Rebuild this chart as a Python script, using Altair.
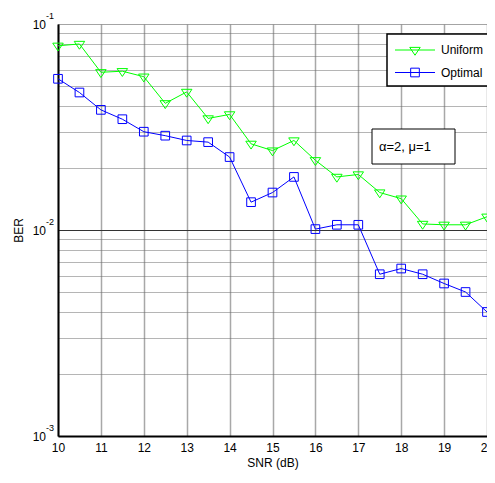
import altair as alt
import pandas as pd

# ---- data ----
snr = [10, 10.5, 11, 11.5, 12, 12.5, 13, 13.5, 14, 14.5, 15,
       15.5, 16, 16.5, 17, 17.5, 18, 18.5, 19, 19.5, 20]
uniform = [0.0784, 0.080, 0.0583, 0.059, 0.0555, 0.0412, 0.0468, 0.0348, 0.0364, 0.0262, 0.0243,
           0.0272, 0.0218, 0.0181, 0.0186, 0.0152, 0.0142, 0.0107, 0.0106, 0.0106, 0.0116]
optimal = [0.0542, 0.0465, 0.0383, 0.0345, 0.0300, 0.0287, 0.0272, 0.0267, 0.0226, 0.01365, 0.0152,
           0.0181, 0.0101, 0.0106, 0.0106, 0.0061, 0.0065, 0.0061, 0.0055, 0.0050, 0.0040]
series_names = ["Uniform", "Optimal"]
series_colors = ["#00ff00", "#0000ff"]
x_ticks = list(range(10, 21))
y_grid = [0.001, 0.002, 0.003, 0.004, 0.005, 0.006, 0.007, 0.008, 0.009,
          0.01, 0.02, 0.03, 0.04, 0.05, 0.06, 0.07, 0.08, 0.09, 0.1]
decades = [0.001, 0.01, 0.1]
decade_base = ["10", "10", "10"]
decade_exp = ["-3", "-2", "-1"]
annotation = ["\u03b1=2, \u03bc=1"]

FONT = "Liberation Sans"
W, H = 429, 412

# centroid-centred down triangle
tri_path = "M-1,-0.5L1,-0.5L0,1Z"

df_u = pd.DataFrame({"snr": snr, "ber": uniform})
df_o = pd.DataFrame({"snr": snr, "ber": optimal})
df_dec = pd.DataFrame({"ber": decades, "base": decade_base, "exp": decade_exp})
df_ann = pd.DataFrame({"label": annotation})
df_leg_u = pd.DataFrame({"label": [series_names[0]]})
df_leg_o = pd.DataFrame({"label": [series_names[1]]})

xscale = alt.Scale(domain=[10, 20], nice=False, zero=False)
yscale = alt.Scale(type="log", domain=[0.001, 0.1], nice=False)

xaxis = alt.Axis(values=x_ticks, grid=True, gridColor="#a8a8a8", gridWidth=1.5,
                 ticks=False, labelPadding=6, labelFontSize=12, labelFont=FONT,
                 labelColor="black", labelFlush=False, labelOverlap=False,
                 domainColor="black", domainWidth=2,
                 title="SNR (dB)", titleFont=FONT, titleFontSize=12, titleFontWeight="normal",
                 titlePadding=4, titleColor="black")
yaxis = alt.Axis(values=y_grid, grid=True,
                 gridColor={"condition": {"test": "datum.value == 0.01", "value": "#333333"},
                            "value": "#6a6a6a"},
                 gridDash={"condition": {"test": "datum.value == 0.01", "value": []},
                           "value": [1, 1]},
                 gridWidth=1,
                 ticks=False, labels=False, domainColor="black", domainWidth=2,
                 title="BER", titleFont=FONT, titleFontSize=12, titleFontWeight="normal",
                 titlePadding=33, titleColor="black")

x = alt.X("snr:Q", scale=xscale, axis=xaxis)
y = alt.Y("ber:Q", scale=yscale, axis=yaxis)
xs = alt.X("snr:Q", scale=xscale)
ys = alt.Y("ber:Q", scale=yscale)

line_u = alt.Chart(df_u).mark_line(color=series_colors[0], strokeWidth=1).encode(x=x, y=y)
pts_u = alt.Chart(df_u).mark_point(filled=False, strokeWidth=1, size=110, opacity=1).encode(
    x=xs, y=ys, shape=alt.value(tri_path), color=alt.value(series_colors[0]))
line_o = alt.Chart(df_o).mark_line(color=series_colors[1], strokeWidth=1).encode(x=xs, y=ys)
pts_o = alt.Chart(df_o).mark_point(filled=False, strokeWidth=1, size=75, opacity=1).encode(
    x=xs, y=ys, shape=alt.value("square"), color=alt.value(series_colors[1]))

# ---- legend box (drawn as guide decoration) ----
leg_box = alt.Chart(df_leg_u).mark_rect(fill="white", stroke="black", strokeWidth=1.5).encode(
    x=alt.value(329), x2=alt.value(433), y=alt.value(10), y2=alt.value(62))
leg_items = []
for df_l, col, shp, sz, yy in [(df_leg_u, series_colors[0], tri_path, 110, 26),
                               (df_leg_o, series_colors[1], "square", 75, 48.5)]:
    leg_items.append(alt.Chart(df_l).mark_rule(color=col, strokeWidth=1).encode(
        x=alt.value(337), x2=alt.value(377), y=alt.value(yy)))
    leg_items.append(alt.Chart(df_l).mark_point(filled=False, strokeWidth=1, size=sz, opacity=1).encode(
        x=alt.value(357), y=alt.value(yy), shape=alt.value(shp), color=alt.value(col)))
    leg_items.append(alt.Chart(df_l).mark_text(font=FONT, fontSize=12, align="left", baseline="middle",
                                               color="black").encode(
        x=alt.value(383), y=alt.value(yy), text="label:N"))

ann_box = alt.Chart(df_ann).mark_rect(fill="white", stroke="black", strokeWidth=1).encode(
    x=alt.value(314), x2=alt.value(397), y=alt.value(105), y2=alt.value(140))
ann_text = alt.Chart(df_ann).mark_text(font=FONT, fontSize=13, align="left", baseline="middle",
                                       color="black").encode(
    x=alt.value(321), y=alt.value(123), text="label:N")

dec_base = alt.Chart(df_dec).mark_text(font=FONT, fontSize=12, align="right", baseline="middle",
                                       color="black", dy=1).encode(
    x=alt.value(-12), y=ys, text="base:N")
dec_exp = alt.Chart(df_dec).mark_text(font=FONT, fontSize=9, align="left", baseline="middle",
                                      color="black", dy=-8).encode(
    x=alt.value(-12), y=ys, text="exp:N")

chart = alt.layer(line_u, line_o, pts_u, pts_o, ann_box, ann_text, leg_box, *leg_items,
                  dec_base, dec_exp).properties(
    width=W, height=H,
    autosize=alt.AutoSizeParams(type="none"),
    padding={"left": 50, "top": 16, "right": 0, "bottom": 35},
).configure_view(stroke="black", strokeWidth=2).configure(background="white")

chart.save("out.html", embed_options={"renderer": "svg", "actions": False})
